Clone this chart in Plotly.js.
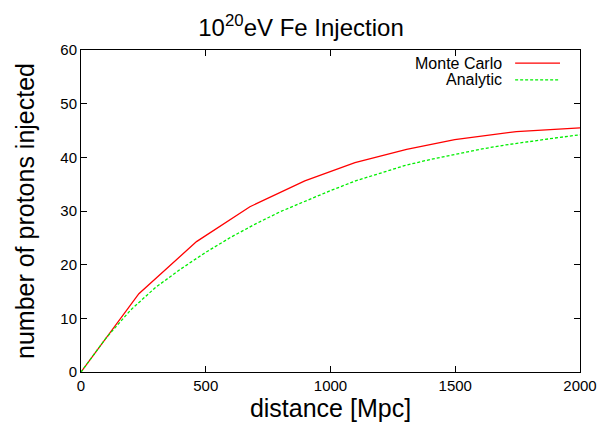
<!DOCTYPE html>
<html><head><meta charset="utf-8">
<script src="https://cdn.plot.ly/plotly-3.0.1.min.js"></script>
<style>body{margin:0;background:#fff}#chart{width:602px;height:430px}</style>
</head><body><div id="chart"></div>
<script>
const mcDistance = [0, 232, 463, 677, 897, 1098, 1305, 1498, 1745, 2000];
const mcProtons  = [0, 14.6, 24.3, 30.8, 35.6, 39.0, 41.5, 43.3, 44.8, 45.5];
const anDistance = [0, 100, 200, 300, 400, 500, 600, 700, 800, 900, 1000, 1100, 1200, 1300, 1400, 1500, 1600, 1700, 1800, 1900, 2000];
const anProtons  = [0, 6.3, 11.6, 15.8, 19.2, 22.3, 25.1, 27.6, 29.9, 31.9, 33.8, 35.6, 37.1, 38.5, 39.6, 40.6, 41.5, 42.3, 43.0, 43.6, 44.2];
const seriesNames = ["Monte Carlo", "Analytic"];
const xTicks = [0, 500, 1000, 1500, 2000];
const yTicks = [0, 10, 20, 30, 40, 50, 60];

const font = "Liberation Sans, Arial, sans-serif";
const traces = [
  {x: mcDistance, y: mcProtons, mode: "lines", name: seriesNames[0],
   line: {color: "#ff0000", width: 1.3}, showlegend: false},
  {x: anDistance, y: anProtons, mode: "lines", name: seriesNames[1],
   line: {color: "#00ee00", width: 1.3, dash: "3px,2px"}, showlegend: false}
];
const axisCommon = {showgrid: false, zeroline: false, showline: true, linecolor: "#000", linewidth: 1,
  mirror: "ticks", ticks: "inside", ticklen: 6, tickcolor: "#000", tickwidth: 1,
  tickfont: {family: font, size: 15, color: "#000"}};
const layout = {
  width: 602, height: 430,
  margin: {l: 81, r: 22, t: 50, b: 58},
  paper_bgcolor: "#fff", plot_bgcolor: "#fff",
  title: {text: "10<sup>20</sup>eV Fe Injection", font: {family: font, size: 24, color: "#000"},
          x: 0.5, xanchor: "center", y: 0.935, yanchor: "middle"},
  xaxis: Object.assign({}, axisCommon, {range: [0, 2000], tickvals: xTicks,
    title: {text: "distance [Mpc]", font: {family: font, size: 25, color: "#000"}, standoff: 6}}),
  yaxis: Object.assign({}, axisCommon, {range: [0, 60], tickvals: yTicks,
    title: {text: "number of protons injected", font: {family: font, size: 25, color: "#000"}, standoff: 18}}),
  annotations: [
    {xref: "paper", yref: "paper", x: 0.848, y: 0.959, xanchor: "right", yanchor: "middle",
     text: seriesNames[0], showarrow: false, font: {family: font, size: 16, color: "#000"}},
    {xref: "paper", yref: "paper", x: 0.848, y: 0.907, xanchor: "right", yanchor: "middle",
     text: seriesNames[1], showarrow: false, font: {family: font, size: 16, color: "#000"}}
  ],
  shapes: [
    {type: "line", xref: "paper", yref: "paper", x0: 0.87, x1: 0.96, y0: 0.959, y1: 0.959,
     line: {color: "#ff0000", width: 1.3}},
    {type: "line", xref: "paper", yref: "paper", x0: 0.87, x1: 0.96, y0: 0.907, y1: 0.907,
     line: {color: "#00ee00", width: 1.3, dash: "3px,2px"}}
  ]
};
Plotly.newPlot("chart", traces, layout, {displayModeBar: false, staticPlot: true});
</script></body></html>
